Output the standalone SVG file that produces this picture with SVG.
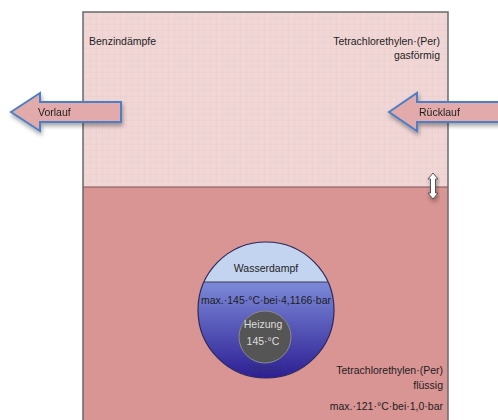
<svg xmlns="http://www.w3.org/2000/svg" width="498" height="420" viewBox="0 0 498 420">
<defs>
<style>
.t{font-family:"Liberation Sans",Arial,sans-serif;font-size:10.5px;fill:#1e1e1e}
.c{text-anchor:middle}
.r{text-anchor:end}
.arrow{fill:#e2aaaa;stroke:#4d7fc4;stroke-width:2;stroke-linejoin:miter}
</style>
<pattern id="grid" width="6" height="6" patternUnits="userSpaceOnUse">
<rect width="6" height="6" fill="#f1d6d6"/>
<path d="M0 0.5H6M0.5 0V6" stroke="#ebcdcd" stroke-width="0.5"/>
</pattern>
<linearGradient id="water" x1="0" y1="0" x2="0" y2="1">
<stop offset="0" stop-color="#7c8ad8"/>
<stop offset="1" stop-color="#2b1c92"/>
</linearGradient>
<filter id="sh" x="-20%" y="-20%" width="140%" height="160%">
<feDropShadow dx="1" dy="3" stdDeviation="2" flood-color="#000" flood-opacity="0.35"/>
</filter>
</defs>
<rect width="498" height="420" fill="#ffffff"/>
<g id="vessel">
<rect x="83" y="12" width="365" height="175" fill="url(#grid)"/>
<rect x="83" y="187" width="365" height="240" fill="#d99494"/>
<path d="M83 430V12H448V430" fill="none" stroke="#6a6a6a" stroke-width="1.5"/>
<line x1="83" y1="187" x2="448" y2="187" stroke="#7a5a5a" stroke-width="1.2"/>
</g>
<g id="labels-top">
<text class="t" x="89" y="45">Benzindämpfe</text>
<text class="t r" x="440" y="45">Tetrachlorethylen·(Per)</text>
<text class="t r" x="440" y="59">gasförmig</text>
</g>
<g id="connectors">
<g id="vorlauf" filter="url(#sh)">
<path class="arrow" d="M11 112L40 93V102H121V122H40V131Z"/>
<text class="t" x="38" y="116">Vorlauf</text>
</g>
<g id="ruecklauf" filter="url(#sh)">
<path class="arrow" d="M389 112L417 93V102H502V122H417V131Z"/>
<text class="t" x="419" y="116">Rücklauf</text>
</g>
<g id="doublearrow" filter="url(#sh)">
<path d="M433 173L438 179H435.5V193H438L433 199L428 193H430.5V179H428Z" fill="#ffffff" stroke="#555" stroke-width="1"/>
</g>
</g>
<g id="boiler">
<clipPath id="cc"><circle cx="266" cy="310" r="68"/></clipPath>
<g clip-path="url(#cc)">
<rect x="196" y="240" width="142" height="42" fill="#c2d4ef"/>
<rect x="196" y="282" width="142" height="98" fill="url(#water)"/>
<line x1="196" y1="282" x2="336" y2="282" stroke="#3a3a5a" stroke-width="1"/>
</g>
<circle cx="266" cy="310" r="68" fill="none" stroke="#2a2a5a" stroke-width="1.2"/>
<text class="t c" x="266" y="272">Wasserdampf</text>
<text class="t c" x="266" y="304">max.·145·°C·bei·4,1166·bar</text>
<text class="t c" x="266" y="372" style="fill:#30307a">Wasser</text>
</g>
<g id="heizung">
<circle cx="265" cy="337" r="26" fill="#555555" stroke="#8a8a8a" stroke-width="1"/>
<text class="t c" x="263" y="328" style="fill:#dddddd">Heizung</text>
<text class="t c" x="263" y="345" style="fill:#dddddd">145·°C</text>
</g>
<g id="labels-bottom">
<text class="t r" x="443" y="374">Tetrachlorethylen·(Per)</text>
<text class="t r" x="443" y="389">flüssig</text>
<text class="t r" x="443" y="410">max.·121·°C·bei·1,0·bar</text>
</g>
</svg>
